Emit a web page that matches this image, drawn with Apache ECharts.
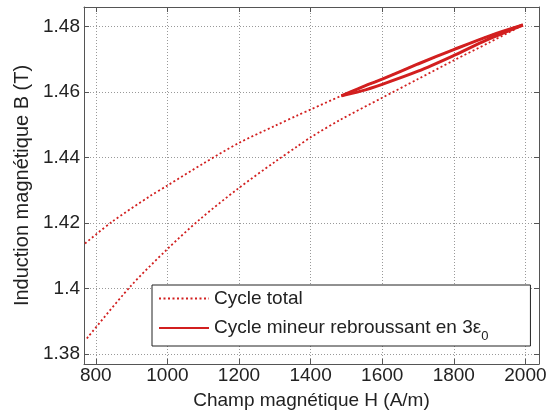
<!DOCTYPE html>
<html>
<head>
<meta charset="utf-8">
<script src="https://cdn.jsdelivr.net/npm/echarts@6/dist/echarts.min.js"></script>
<style>
html,body{margin:0;padding:0;background:#fff;}
#c{width:552px;height:417px;}
</style>
</head>
<body>
<div id="c"></div>
<script>
// Tick labels
const hTicks = [800, 1000, 1200, 1400, 1600, 1800, 2000];
const bTicks = [1.38, 1.40, 1.42, 1.44, 1.46, 1.48];

// Total cycle, upper (descending field) branch
const upperH = [770, 845, 952, 1000, 1100, 1200, 1300, 1365, 1400, 1486, 1540, 1600, 1700, 1800, 1900, 1993];
const upperB = [1.4138, 1.4204, 1.4283, 1.4315, 1.4382, 1.4445, 1.4497, 1.4530, 1.4547, 1.4589, 1.4614, 1.4640, 1.4686, 1.4730, 1.4772, 1.4805];

// Total cycle, lower (ascending field) branch
const lowerH = [775, 896, 1000, 1091, 1198, 1300, 1365, 1400, 1482, 1600, 1700, 1800, 1900, 1993];
const lowerB = [1.3848, 1.4006, 1.4121, 1.4212, 1.4306, 1.4387, 1.4436, 1.4462, 1.4515, 1.4583, 1.4640, 1.4697, 1.4752, 1.4805];

// Minor cycle
const minorDownH = [1993, 1900, 1800, 1700, 1600, 1540, 1486];
const minorDownB = [1.4805, 1.4772, 1.4730, 1.4686, 1.4640, 1.4614, 1.4589];
const minorUpH = [1486, 1540, 1600, 1700, 1800, 1891, 1993];
const minorUpB = [1.4589, 1.4603, 1.4624, 1.4664, 1.4712, 1.4759, 1.4805];

const nameTotal = 'Cycle total';
const nameMinor = 'Cycle mineur rebroussant en 3ε0';

function pairs(xs, ys) { return xs.map((x, i) => [x, ys[i]]); }

const red = '#d21f1f';
const txt = '#222';
const frame = '#555';
const font = 'Liberation Sans, Arial, Helvetica, sans-serif';
const fs = 19;

const chart = echarts.init(document.getElementById('c'), null, {renderer: 'canvas'});

const dottedLine = {color: red, width: 1.8, type: [2, 2.5]};
const solidLine = {color: red, width: 3, type: 'solid'};

chart.setOption({
  animation: false,
  backgroundColor: '#fff',
  grid: {left: 84, right: 13, top: 7, bottom: 53, containLabel: false, outerBoundsMode: 'none'},
  xAxis: [{
    type: 'value', min: 767, max: 2038, position: 'bottom',
    name: 'Champ magnétique H (A/m)', nameLocation: 'middle', nameGap: 27,
    nameTextStyle: {color: txt, fontSize: fs, fontFamily: font},
    axisLine: {show: true, onZero: false, lineStyle: {color: frame, width: 1}},
    axisTick: {show: true, inside: true, length: 5, customValues: hTicks, lineStyle: {color: frame}},
    axisLabel: {show: true, customValues: hTicks, color: txt, fontSize: fs, fontFamily: font, margin: 2,
      formatter: v => String(Math.round(v))},
    splitLine: {show: true, lineStyle: {color: '#999', width: 1, type: [1, 2]}}
  }, {
    type: 'value', min: 767, max: 2038, position: 'top',
    axisLine: {show: true, onZero: false, lineStyle: {color: frame, width: 1}},
    axisTick: {show: true, inside: true, length: 5, customValues: hTicks, lineStyle: {color: frame}},
    axisLabel: {show: false}, splitLine: {show: false}
  }],
  yAxis: [{
    type: 'value', min: 1.377, max: 1.486, position: 'left',
    name: 'Induction magnétique B (T)', nameLocation: 'middle', nameGap: 50, nameRotate: 90,
    nameTextStyle: {color: txt, fontSize: 20, fontFamily: font},
    axisLine: {show: true, onZero: false, lineStyle: {color: frame, width: 1}},
    axisTick: {show: true, inside: true, length: 5, customValues: bTicks, lineStyle: {color: frame}},
    axisLabel: {show: true, customValues: bTicks, color: txt, fontSize: fs, fontFamily: font, margin: 4,
      formatter: v => String(Math.round(v * 100) / 100)},
    splitLine: {show: true, lineStyle: {color: '#999', width: 1, type: [1, 2]}}
  }, {
    type: 'value', min: 1.377, max: 1.486, position: 'right',
    axisLine: {show: true, onZero: false, lineStyle: {color: frame, width: 1}},
    axisTick: {show: true, inside: true, length: 5, customValues: bTicks, lineStyle: {color: frame}},
    axisLabel: {show: false}, splitLine: {show: false}
  }],
  legend: {
    show: true, orient: 'vertical', left: 152, top: 285,
    padding: [4, 42, 3, 6], itemGap: 5, itemWidth: 50, itemHeight: 14,
    backgroundColor: '#fff', borderColor: '#222', borderWidth: 1, borderRadius: 0,
    itemStyle: {opacity: 0, borderWidth: 0},
    data: [nameTotal, nameMinor],
    formatter: function (n) {
      if (n === nameMinor) return '{n|Cycle mineur rebroussant en 3ε}{s|0}';
      return '{n|' + n + '}';
    },
    textStyle: {
      color: txt, fontSize: fs, fontFamily: font, padding: [0, 0, 0, 0],
      rich: {
        n: {color: txt, fontSize: fs, fontFamily: font, lineHeight: 20},
        s: {color: txt, fontSize: 13, fontFamily: font, lineHeight: 13, padding: [17, 0, 0, 0]}
      }
    }
  },
  series: [
    {name: nameTotal, type: 'line', data: pairs(upperH, upperB), symbol: 'none', showSymbol: false, smooth: 0.3, lineStyle: dottedLine, itemStyle: {color: red}, z: 2},
    {name: nameTotal, type: 'line', data: pairs(lowerH, lowerB), symbol: 'none', showSymbol: false, smooth: 0.3, lineStyle: dottedLine, itemStyle: {color: red}, z: 2},
    {name: nameMinor, type: 'line', data: pairs(minorDownH, minorDownB), symbol: 'none', showSymbol: false, smooth: 0.3, lineStyle: solidLine, itemStyle: {color: red}, z: 3},
    {name: nameMinor, type: 'line', data: pairs(minorUpH, minorUpB), symbol: 'none', showSymbol: false, smooth: 0.3, lineStyle: solidLine, itemStyle: {color: red}, z: 3}
  ]
});
</script>
</body>
</html>
